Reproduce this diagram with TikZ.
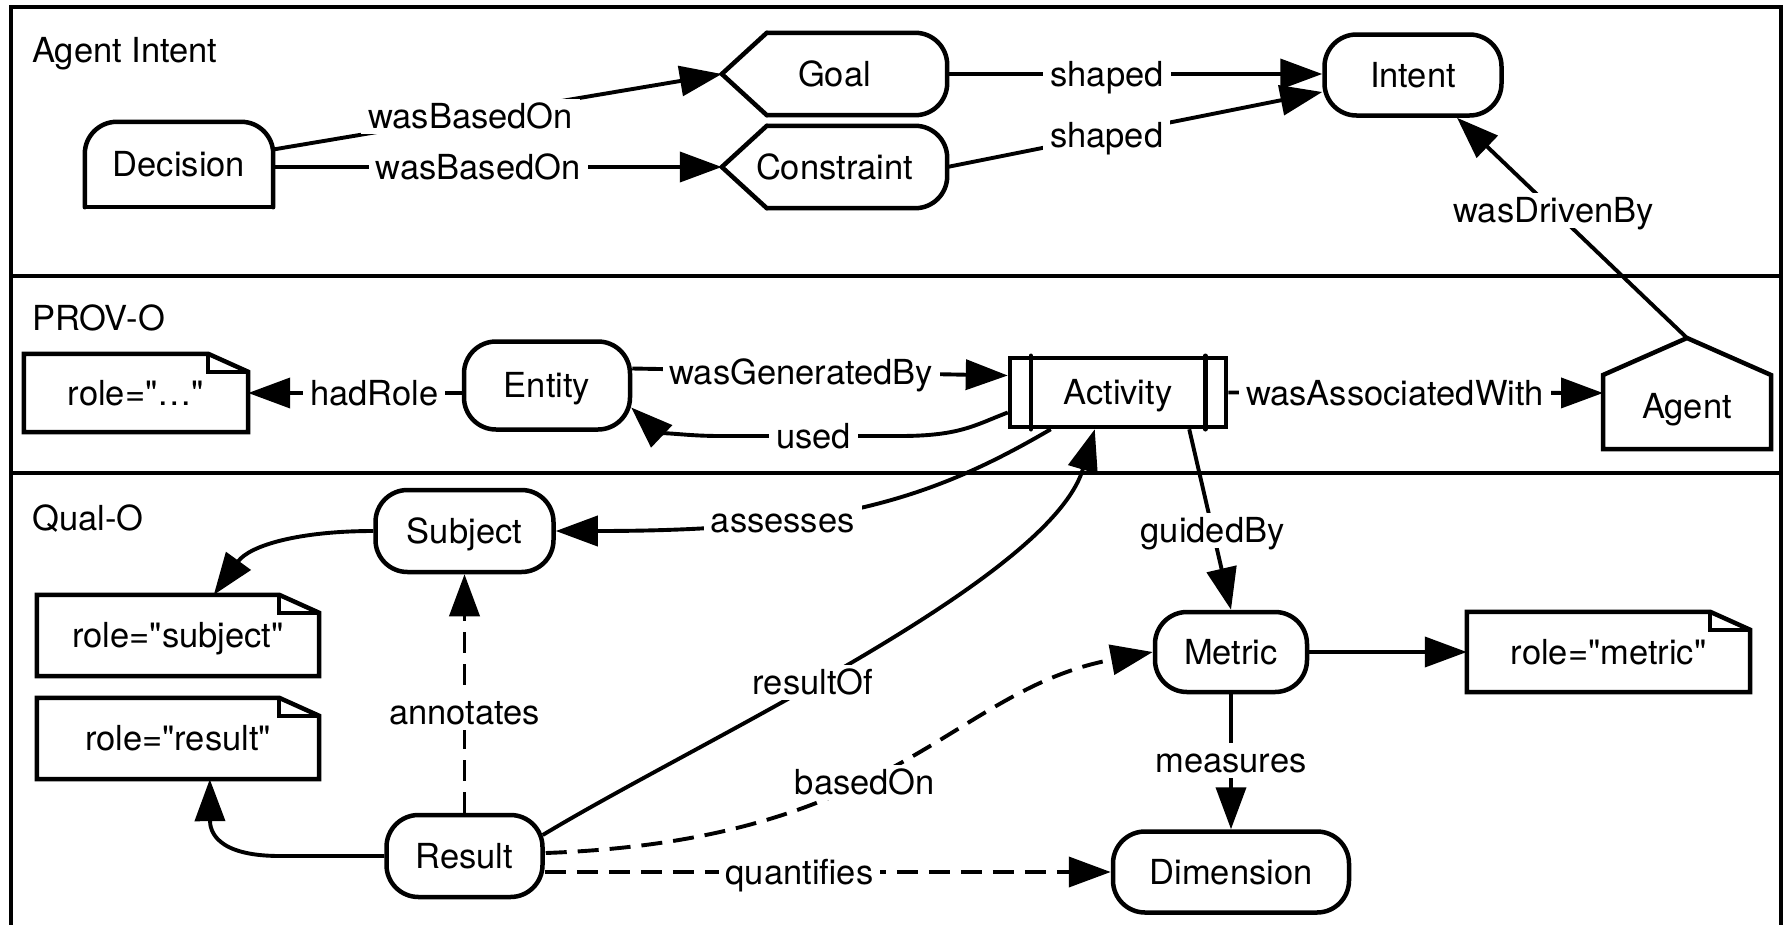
\documentclass[tikz,border=0pt]{standalone}
\usepackage{fontspec}
\newfontfamily\helv{TeX Gyre Heros}
\usetikzlibrary{arrows.meta,calc}

\begin{document}
\begin{tikzpicture}[x=1pt,y=-1pt,
  every node/.style={font=\helv\fontsize{34.5pt}{41pt}\selectfont, text height=24.8pt, text depth=0pt},
  frame/.style={line width=4.8pt},
  outline/.style={line width=4.5pt, line join=miter, line cap=round},
  pill/.style={draw, line width=4.5pt, rounded corners=32pt, minimum height=82pt, inner sep=0pt},
  plain/.style={inner sep=0pt},
  lbl/.style={fill=white, inner xsep=7pt, inner ysep=5pt},
  conn/.style={line width=3.9pt, -{Triangle[length=42pt,width=30pt]}},
  dconn/.style={conn, dash pattern=on 21pt off 11pt},
  title/.style={anchor=west, inner sep=0pt},
]
\useasboundingbox (0,0) rectangle (1791,924);
\clip (0,0) rectangle (1791,924);

% section frame
\draw[frame] (11,940) -- (11,7) -- (1781,7) -- (1781,940);
\draw[frame] (11,276) -- (1781,276);
\draw[frame] (11,473) -- (1781,473);

\node[title] (tIntent) at (32,50) {Agent Intent};
\node[title] (tProv) at (32,318) {PROV-O};
\node[title] (tQual) at (32,518) {Qual-O};

% ---- Agent Intent nodes
\node[plain, minimum width=188pt, minimum height=85pt] (dec) at (179,164.5) {Decision};
\draw[outline, rounded corners=32pt] (dec.south west) -- (dec.north west) -- (dec.north east) -- (dec.south east);
\draw[outline, line cap=rect] (dec.south west) -- (dec.south east);

\node[plain, minimum width=225pt, minimum height=82pt] (goal) at (834.5,74) {Goal};
\node[plain, minimum width=225pt, minimum height=82pt] (cons) at (834.5,167) {Constraint};
\foreach \n in {goal,cons} {
  \draw[outline] ($(\n.south west)+(45,0)$) -- (\n.west) -- ($(\n.north west)+(45,0)$);
  \draw[outline, rounded corners=32pt] ($(\n.north west)+(45,0)$) -- (\n.north east) -- (\n.south east) -- ($(\n.south west)+(45,0)$);
}
\node[pill, minimum width=177pt, minimum height=81pt] (intent) at (1413,75) {Intent};

% ---- PROV-O nodes
\node[plain, minimum width=224pt, minimum height=78pt] (r1) at (136,393) {role="…"};
\node[pill, minimum width=166pt, minimum height=88pt] (ent) at (547,385.5) {Entity};
\node[draw, line width=4.5pt, minimum width=216pt, minimum height=69pt, inner sep=0pt] (act) at (1118,392.5) {Activity};
\draw[outline] ($(act.north west)+(23,0)$) -- ($(act.south west)+(23,0)$);
\draw[outline] ($(act.north east)+(-23,0)$) -- ($(act.south east)+(-23,0)$);
\node[plain, minimum width=168pt] (agent) at (1687,406) {Agent};
\draw[outline] ($(agent)+(-84,43)$) -- ($(agent)+(-84,-31)$) -- ($(agent)+(0,-68)$) -- ($(agent)+(84,-31)$) -- ($(agent)+(84,43)$) -- cycle;
\coordinate (apex) at ($(agent)+(0,-68)$);

% ---- Qual-O nodes
\node[pill, minimum width=178pt] (subj) at (464.5,531) {Subject};
\node[plain, minimum width=282pt, minimum height=81pt] (r2) at (178,635.5) {role="subject"};
\node[plain, minimum width=282pt, minimum height=81pt] (r3) at (178,738.5) {role="result"};
\node[pill, minimum width=156pt] (res) at (464.5,856) {Result};
\node[pill, minimum width=152pt, minimum height=80pt] (met) at (1231,652) {Metric};
\node[plain, minimum width=283pt, minimum height=80pt] (r4) at (1608.5,652) {role="metric"};
\node[pill, minimum width=236pt, minimum height=81pt] (dim) at (1231,872) {Dimension};

% note outlines with folded corner
\foreach \n in {r1,r2,r3,r4} {
  \draw[outline] (\n.south west) -- (\n.north west) -- ($(\n.north east)+(-40,0)$) -- ($(\n.north east)+(0,18)$) -- (\n.south east) -- cycle;
  \draw[outline, line width=3.5pt] ($(\n.north east)+(-40,0)$) -- ($(\n.north east)+(-40,18)$) -- ($(\n.north east)+(0,18)$);
}

% ---- Agent Intent relations
\draw[conn] ($(dec.east)+(0,-15)$) -- (goal.west) node[lbl,pos=0.44]{wasBasedOn};
\draw[conn] (dec.east |- cons.west) -- (cons.west) node[lbl,pos=0.457]{wasBasedOn};
\draw[conn] (goal.east) -- (intent.west |- goal.east) node[lbl,pos=0.426]{shaped};
\draw[conn] (cons.east) -- ($(intent.west)+(0,17)$) node[lbl,pos=0.425]{shaped};
\draw[conn] (apex) -- ($(intent.south)+(44,0)$) node[lbl,pos=0.58]{wasDrivenBy};

% ---- PROV-O relations
\draw[conn] (ent.west |- r1.east) -- (r1.east) node[lbl,pos=0.41]{hadRole};
\draw[conn] ($(ent.east)+(0,-17)$) -- ($(act.west)+(0,-17)$) node[lbl,pos=0.45]{wasGeneratedBy};
\draw[conn] ($(act.west)+(0,20)$) .. controls (975,425) and (960,436) .. (900,436) -- (720,436) node[lbl,pos=0.48]{used} .. controls (680,436) and (655,430) .. ($(ent.east)+(-1,22)$);
\draw[conn] (act.east) -- ($(agent)+(-84,-13)$) node[lbl,pos=0.445]{wasAssociatedWith};

% ---- Qual-O relations
\draw[conn] ($(act.south west)+(43,0)$) .. controls (930,500) and (830,531) .. (subj.east) node[lbl,pos=0.66]{assesses};
\draw[conn] ($(res.east)+(-2,-21)$) .. controls (700,740) and (1050,580) .. ($(act.south west)+(87,0)$) node[lbl,pos=0.43]{resultOf};
\draw[conn] ($(act.south east)+(-39,0)$) -- (met.north) node[lbl,pos=0.56]{guidedBy};
\draw[conn] (met.east) -- (r4.west);
\draw[conn] (met.south) -- (dim.north) node[lbl,pos=0.49]{measures};
\draw[dconn] ($(res.east)+(0,16)$) -- (dim.west) node[lbl,pos=0.45]{quantifies};
\draw[dconn] ($(res.east)+(1,-3)$) .. controls (900,840) and (950,690) .. (met.west) node[lbl,pos=0.42]{basedOn};
\draw[dconn] (res.north) -- (subj.south) node[lbl,pos=0.42]{annotates};
\draw[conn] (subj.west) .. controls (300,531) and (250,545) .. ($(r2.north west)+(177,0)$);
\draw[conn] (res.west) -- (280,856) .. controls (215,856) and (210,830) .. ($(r3.south west)+(173,0)$);
\end{tikzpicture}
\end{document}
